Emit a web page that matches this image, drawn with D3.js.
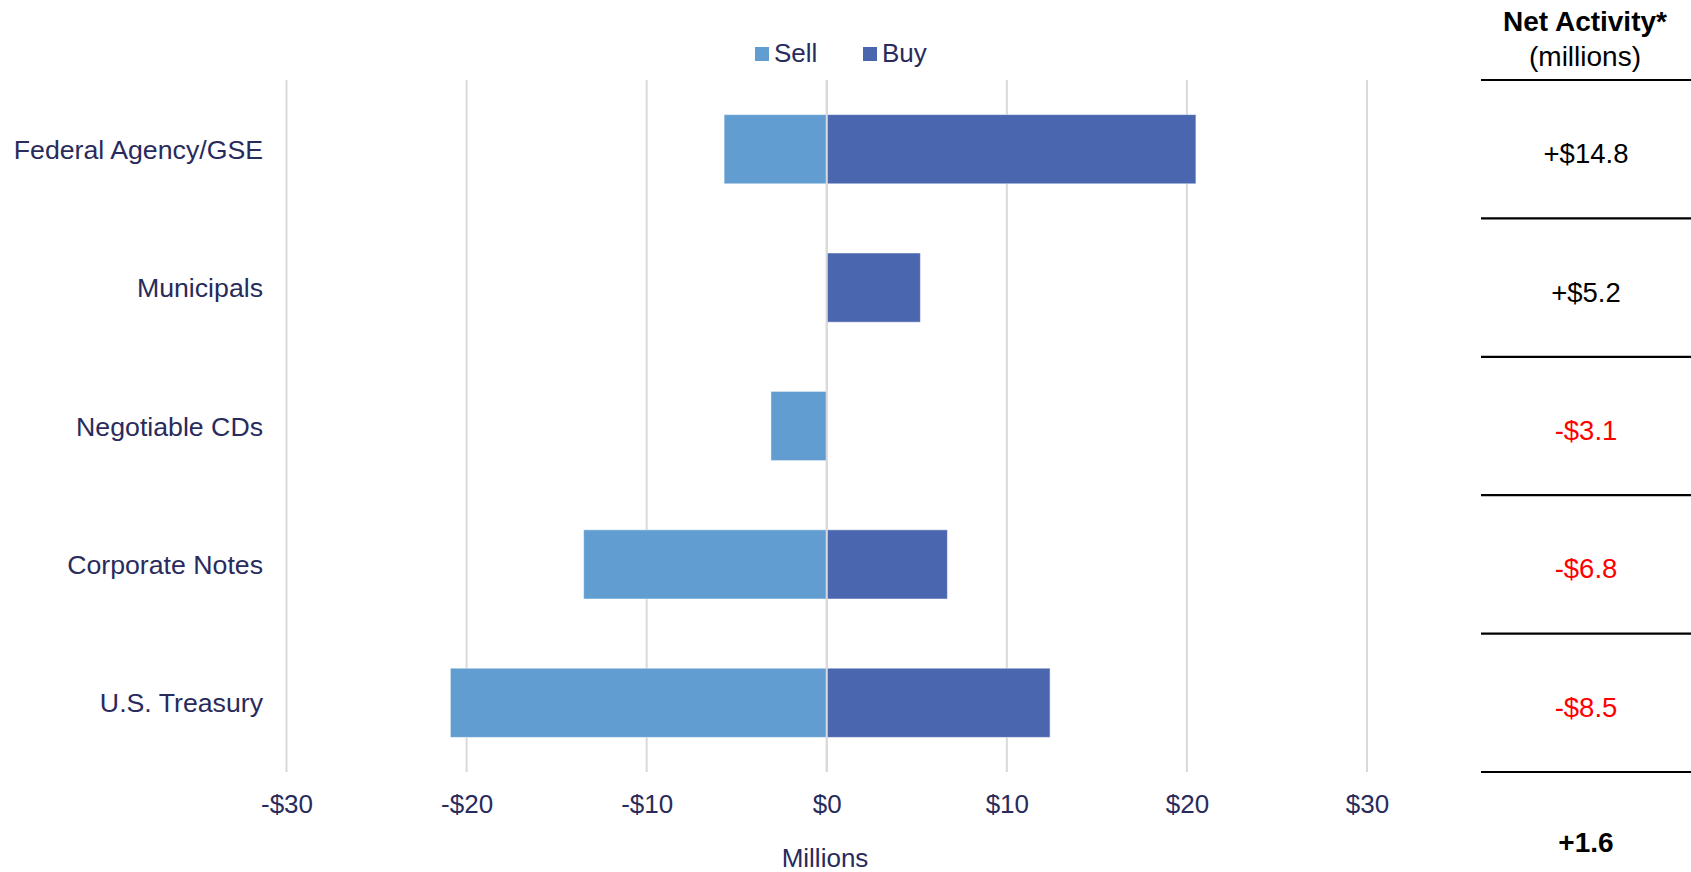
<!DOCTYPE html>
<html>
<head>
<meta charset="utf-8">
<script src="https://cdn.jsdelivr.net/npm/d3@7"></script>
<style>
  html, body { margin: 0; padding: 0; background: #ffffff; }
  svg { display: block; font-family: "Liberation Sans", Arial, sans-serif; }
</style>
</head>
<body>
<svg id="chart" width="1691" height="872"></svg>
<script>
// Portfolio trading activity by sector, in millions of dollars
const categories = ["Federal Agency/GSE", "Municipals", "Negotiable CDs", "Corporate Notes", "U.S. Treasury"];
const sellValues = [-5.7, 0, -3.1, -13.5, -20.9];
const buyValues  = [20.5, 5.2, 0, 6.7, 12.4];
const xTicks = [-30, -20, -10, 0, 10, 20, 30];
const seriesNames = ["Sell", "Buy"];
const seriesColors = ["#619dd0", "#4a66ae"];

const textColor = "#282b5b";
const gridColor = "#d9d9d9";

const svg = d3.select("#chart");

const x = d3.scaleLinear().domain([-30, 30]).range([286.5, 1367]);
const y = d3.scaleBand().domain(categories).range([80, 772]).paddingInner(0.5).paddingOuter(0.25);

const fmtMoney = v => (v < 0 ? "-$" : "$") + Math.abs(v);

// vertical gridlines
svg.append("g")
  .selectAll("line")
  .data(xTicks)
  .join("line")
  .attr("x1", d => x(d)).attr("x2", d => x(d))
  .attr("y1", 80).attr("y2", 772)
  .attr("stroke", gridColor)
  .attr("stroke-width", 2);

// bars
const rows = categories.map((c, i) => ({ cat: c, sell: sellValues[i], buy: buyValues[i] }));

const bars = svg.append("g");
bars.selectAll("rect.sell")
  .data(rows.filter(d => d.sell !== 0))
  .join("rect")
  .attr("class", "sell")
  .attr("x", d => x(d.sell))
  .attr("width", d => x(0) - x(d.sell))
  .attr("y", d => y(d.cat))
  .attr("height", y.bandwidth())
  .attr("fill", seriesColors[0])
  .attr("stroke", "#ffffff").attr("stroke-opacity", 0.5).attr("stroke-width", 1);

bars.selectAll("rect.buy")
  .data(rows.filter(d => d.buy !== 0))
  .join("rect")
  .attr("class", "buy")
  .attr("x", x(0))
  .attr("width", d => x(d.buy) - x(0))
  .attr("y", d => y(d.cat))
  .attr("height", y.bandwidth())
  .attr("fill", seriesColors[1])
  .attr("stroke", "#ffffff").attr("stroke-opacity", 0.5).attr("stroke-width", 1);

// zero line above the bars
svg.append("line")
  .attr("x1", x(0)).attr("x2", x(0))
  .attr("y1", 80).attr("y2", 772)
  .attr("stroke", gridColor)
  .attr("stroke-width", 2);

// category labels
svg.append("g")
  .selectAll("text")
  .data(categories)
  .join("text")
  .attr("x", 263)
  .attr("y", d => y(d) + y.bandwidth() / 2 + 9.5)
  .attr("text-anchor", "end")
  .attr("font-size", 26.7)
  .attr("fill", textColor)
  .text(d => d);

// x tick labels
const xAxis = d3.axisBottom(x).tickValues(xTicks).tickSize(0).tickPadding(0).tickFormat(fmtMoney);
const gx = svg.append("g").attr("transform", "translate(0,794)").call(xAxis);
gx.select(".domain").remove();
gx.selectAll("text")
  .attr("font-size", 26)
  .attr("font-family", "\"Liberation Sans\", Arial, sans-serif")
  .attr("fill", textColor)
  .attr("dy", null)
  .attr("y", 19);

// axis title
svg.append("text")
  .attr("x", 825).attr("y", 867)
  .attr("text-anchor", "middle")
  .attr("font-size", 26)
  .attr("fill", textColor)
  .text("Millions");

// legend
const legend = svg.append("g");
const legendX = [755, 863];
seriesNames.forEach((name, i) => {
  legend.append("rect")
    .attr("x", legendX[i]).attr("y", 47)
    .attr("width", 14).attr("height", 14)
    .attr("fill", seriesColors[i]);
  legend.append("text")
    .attr("x", legendX[i] + 19).attr("y", 61.5)
    .attr("font-size", 26)
    .attr("fill", textColor)
    .text(name);
});

// net activity table
const tableX0 = 1481, tableX1 = 1691, tableCx = 1586;
svg.append("text")
  .attr("x", tableCx - 1).attr("y", 31)
  .attr("text-anchor", "middle")
  .attr("font-size", 28).attr("font-weight", "bold")
  .attr("fill", "#000")
  .text("Net Activity*");
svg.append("text")
  .attr("x", tableCx - 1).attr("y", 66)
  .attr("text-anchor", "middle")
  .attr("font-size", 28)
  .attr("fill", "#000")
  .text("(millions)");

const step = y.step();
const boundaries = d3.range(categories.length + 1).map(i => y.range()[0] + i * step);
svg.append("g")
  .selectAll("line")
  .data(boundaries)
  .join("line")
  .attr("x1", tableX0).attr("x2", tableX1)
  .attr("y1", d => d).attr("y2", d => d)
  .attr("stroke", "#000")
  .attr("stroke-width", 2.2);

const nets = rows.map(d => Math.round((d.buy + d.sell) * 10) / 10);
const fmtNet = v => (v < 0 ? "-$" : "+$") + Math.abs(v).toFixed(1);

svg.append("g")
  .selectAll("text")
  .data(rows.map((d, i) => ({ cat: d.cat, net: nets[i] })))
  .join("text")
  .attr("x", tableCx)
  .attr("y", d => y(d.cat) + y.bandwidth() / 2 + 14)
  .attr("text-anchor", "middle")
  .attr("font-size", 27.5)
  .attr("fill", d => d.net < 0 ? "#ff0000" : "#000000")
  .text(d => fmtNet(d.net));

const total = Math.round(d3.sum(nets) * 10) / 10;
svg.append("text")
  .attr("x", tableCx).attr("y", 852)
  .attr("text-anchor", "middle")
  .attr("font-size", 28).attr("font-weight", "bold")
  .attr("fill", "#000")
  .text((total < 0 ? "-" : "+") + Math.abs(total).toFixed(1));
</script>
</body>
</html>
